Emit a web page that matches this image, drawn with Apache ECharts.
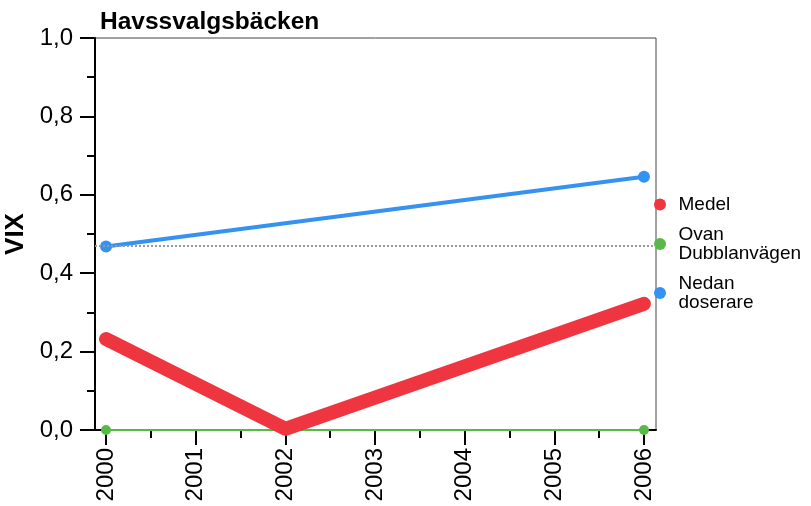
<!DOCTYPE html>
<html><head><meta charset="utf-8">
<script src="https://cdn.jsdelivr.net/npm/echarts@6/dist/echarts.min.js"></script>
<style>html,body{margin:0;padding:0;background:#fff}#c{width:811px;height:506px}</style>
</head><body><div id="c"></div>
<script>
const years = [2000, 2002, 2006];
const medel = [0.232, 0.003, 0.322];
const ovanYears = [2000, 2006];
const ovan = [0.0, 0.0];
const nedanYears = [2000, 2006];
const nedan = [0.468, 0.646];
const refLine = 0.472;
const xTicks = [2000, 2001, 2002, 2003, 2004, 2005, 2006];
const xMinorTicks = [2000.5, 2001.5, 2002.5, 2003.5, 2004.5, 2005.5];

const font = 'Liberation Sans, Arial, Helvetica, sans-serif';
const chart = echarts.init(document.getElementById('c'));
chart.setOption({
  animation: false,
  title: {
    text: 'Havssvalgsbäcken', left: 95, top: 5,
    textStyle: { fontFamily: font, fontSize: 24.5, fontWeight: 'bold', color: '#000' }
  },
  legend: {
    orient: 'vertical', left: 649, top: 190, itemWidth: 27, itemHeight: 12, itemGap: 11,
    icon: 'circle',
    textStyle: { fontFamily: font, fontSize: 19, lineHeight: 19, color: '#000' },
    data: ['Medel', 'Ovan\nDubblanvägen', 'Nedan\ndoserare']
  },
  grid: { left: 95, right: 155, top: 38, bottom: 76, containLabel: false, outerBoundsMode: 'none',
    show: true, borderColor: '#444', borderWidth: 1 },
  xAxis: [{
    type: 'value', min: 1999.877, max: 2006.134, position: 'bottom',
    axisLine: { lineStyle: { color: '#000', width: 2 } },
    axisTick: { customValues: xTicks, length: 15, lineStyle: { color: '#000', width: 2 } },
    axisLabel: { customValues: xTicks, rotate: 90, margin: 18, formatter: v => String(v),
      fontFamily: font, fontSize: 24, color: '#000' },
    splitLine: { show: false }
  }, {
    type: 'value', min: 1999.877, max: 2006.134, position: 'bottom', offset: 0,
    axisLine: { show: false },
    axisTick: { customValues: xMinorTicks, length: 8, lineStyle: { color: '#000', width: 2 } },
    axisLabel: { show: false },
    splitLine: { show: false }
  }],
  yAxis: {
    type: 'value', min: 0, max: 1, interval: 0.2,
    name: 'VIX', nameLocation: 'middle', nameGap: 65,
    nameTextStyle: { fontFamily: font, fontSize: 26, fontWeight: 'bold', color: '#000' },
    axisLine: { show: true, lineStyle: { color: '#000', width: 2 } },
    axisTick: { show: true, length: 15, lineStyle: { color: '#000', width: 2 } },
    minorTick: { show: true, splitNumber: 2, length: 8, lineStyle: { color: '#000', width: 2 } },
    axisLabel: { margin: 22, formatter: v => v.toFixed(1).replace('.', ','),
      fontFamily: font, fontSize: 24, color: '#000' },
    splitLine: { show: false }
  },
  series: [{
    name: 'Medel', type: 'line', xAxisIndex: 0,
    data: years.map((y, i) => [y, medel[i]]),
    color: '#ef3540', showSymbol: false, symbol: 'circle', symbolSize: 12,
    lineStyle: { width: 14, cap: 'round', join: 'round' }, z: 3
  }, {
    name: 'Ovan\nDubblanvägen', type: 'line', xAxisIndex: 0,
    data: ovanYears.map((y, i) => [y, ovan[i]]),
    color: '#56bb46', symbol: 'circle', symbolSize: 10,
    lineStyle: { width: 2 }, z: 2
  }, {
    name: 'Nedan\ndoserare', type: 'line', xAxisIndex: 0,
    data: nedanYears.map((y, i) => [y, nedan[i]]),
    color: '#3592f0', symbol: 'circle', symbolSize: 12,
    lineStyle: { width: 4 }, z: 4,
    markLine: { silent: true, symbol: 'none', label: { show: false },
      lineStyle: { color: '#999', type: 'dotted', width: 2 },
      data: [{ yAxis: refLine }] }
  }]
});
</script></body></html>
